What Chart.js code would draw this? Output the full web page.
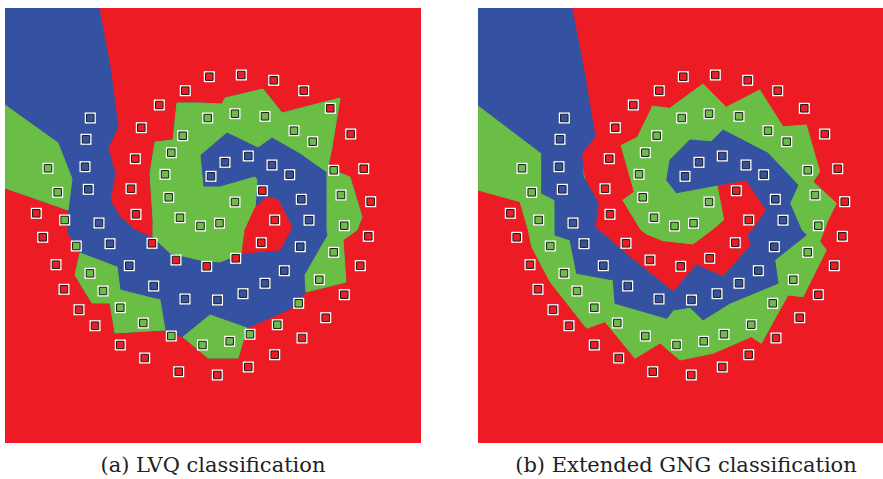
<!DOCTYPE html>
<html lang="en">
<head>
  <meta charset="UTF-8">
  <title>LVQ vs Extended GNG classification</title>
  <style>
    body {
      margin: 0;
      width: 883px;
      height: 479px;
      overflow: hidden;
      position: relative;
      background: #fff;
      font-family: "DejaVu Serif", serif;
    }
    .panel { position: absolute; top: 8px; height: 435px; }
    #leftPanel { left: 5px; width: 416px; }
    #rightPanel { left: 478px; width: 415px; }
    .caption {
      position: absolute;
      top: 455px;
      font-size: 21px;
      line-height: 21px;
      color: #222;
      white-space: nowrap;
      transform: translateX(-50%);
    }
  </style>
</head>
<body>
  <div class="panel" id="leftPanel"><canvas id="lvqChart" width="416" height="435"></canvas></div>
  <div class="panel" id="rightPanel"><canvas id="gngChart" width="415" height="435"></canvas></div>
  <div class="caption" style="left:213px">(a) LVQ classification</div>
  <div class="caption" style="left:686px">(b) Extended GNG classification</div>

  <script src="https://cdn.jsdelivr.net/npm/chart.js"></script>
  <script>
    const RED = '#ED1C24', BLUE = '#3552A2', GREEN = '#6ABD45';

    // three-class spiral data set (same points in both panels)
    const redPoints = [
      [209.3,76.7],[241.3,75],[273.7,80.3],[303.7,90.7],[330.3,108.3],[350.7,134],[363.7,168.7],
      [370.7,201.7],[368.3,236.3],[360.3,265.7],[344.3,294.7],[325.7,317.7],[302,338],[274.7,354.7],
      [248.3,367],[217.3,375],[178.7,371.7],[144.7,358],[120.3,345],[95,325.7],[79,309.7],[64,289.3],
      [56,264.7],[42.7,237.3],[36.3,213.3],[185.3,90.7],[159.3,105],[141.3,127.7],[135.3,158.7],
      [131,188.7],[136,214.3],[152,243.3],[176,260],[206.7,266.3],[235.7,258.3],[261.3,242.7],
      [274.7,220],[262.3,190.7]
    ];
    const bluePoints = [
      [90.3,118],[86,139.3],[85,166.7],[88.3,189.3],[99,223],[110,243.7],[129.3,265.7],[153.7,286],
      [185,299],[217.5,300],[243,293.7],[265,283.3],[284.3,270.7],[300.3,246.7],[309,220.2],
      [301.3,199.3],[289.7,174.7],[272,165],[248.3,156],[225,162.3],[211,176.3]
    ];
    const greenPoints = [
      [48,168.3],[57.7,192.3],[64.7,220],[76.3,246],[90,273.3],[103,291],[120.3,307.7],[143.3,323],
      [171.3,336],[202.5,345],[229.7,341.3],[250,334.3],[277.3,324.7],[298.7,303.3],[319.3,279.7],
      [333.7,252.3],[344.3,225.7],[341,195],[333.7,170.3],[312.7,141.7],[294,130.7],[265,116.3],
      [235,113.7],[207.7,118],[182.7,135.7],[171.3,152.7],[165,174.3],[168.7,197.3],[180,217.7],
      [200.5,226],[219.5,223.2],[235,202]
    ];

    // LVQ decision regions (background is red)
    const lvqBlue = [
      [5,8],[99,8],[110,67],[118,127],[108,148],[115,173],[110,200],[120,217],[135,230],[152,238],
      [153,237],[153,220],[150,173],[155,142],[173,140],[177,103],[200,103],[222,104],[225,98],
      [263,89],[282,113],[340,98],[332,147],[327,171],[340,173],[350,177],[362,217],[357,230],
      [343,240],[346,282],[306,292],[292,308],[247,328],[238,358],[208,358],[183,337],[165,330],
      [115,333],[110,303],[92,303],[75,275],[80,253],[68,233],[68,210],[5,188]
    ];
    const lvqGreenWedge = [[5,105],[58,143],[72,179],[68,210],[5,188]];
    const lvqGreenCentre = [
      [177,103],[200,103],[222,104],[225,98],[263,89],[282,113],[340,98],[332,147],[327,172],
      [300,153],[272,137],[258,147],[227,132],[200,155],[203,187],[220,187],[255,177],[257,180],
      [255,208],[245,230],[242,253],[220,262],[200,260],[170,253],[153,237],[153,220],[150,173],
      [155,142],[173,140]
    ];
    const lvqGreenRight = [
      [327,170],[340,173],[350,177],[362,217],[357,230],[343,240],[346,282],[306,292],[305,275],
      [328,235],[327,230]
    ];
    const lvqGreenBottom = [[183,337],[210,315],[247,328],[238,358],[208,358]];
    const lvqGreenLower = [
      [80,253],[117,267],[120,290],[160,300],[165,330],[115,333],[110,303],[92,303],[75,275]
    ];
    const lvqRedInner = [[255,208],[267,197],[278,200],[292,227],[280,250],[242,253],[245,230]];

    // Extended GNG decision regions
    const gngGreen = [
      [4,105],[177.7,106],[195.7,108.3],[229,84],[252.3,107.3],[285.7,90],[309,126.7],[332.3,125],
      [345.7,171.7],[339,181.7],[362.3,203.3],[354,220],[345.7,241.7],[352.3,250],[329,296.7],
      [314,295],[287.3,343.3],[277.3,336.7],[239,353.3],[206,360],[186,343],[161,358.3],
      [131,321.7],[112.7,328.3],[76,281.7],[57.7,246.7],[54.3,230],[46,201.7],[4,190]
    ];
    const gngRed = [
      [116,100],[177.7,106],[162.7,136.7],[146,145],[159.3,191.7],[147.7,200],[166,230],
      [172.7,235],[189,241.7],[219,245],[239,230],[250.7,220],[244,185],[272.3,180],[292.3,210],
      [279,230],[274,235],[277.3,245],[249,276.7],[222.3,265],[199.3,291.7],[159.3,260],
      [121,226.7],[106,150]
    ];
    const gngBlue = [
      [4,8],[97.7,8],[109.3,66.7],[121,136.7],[107.7,153.3],[109.3,176.7],[124.3,203.3],[121,226.7],
      [159.3,260],[199.3,291.7],[222.3,265],[249,276.7],[277.3,245],[274,235],[279,230],[292.3,210],
      [272.3,180],[244,185],[202.3,192.7],[192.7,180],[196,160],[215.7,140],[237.3,141.7],[249,130],
      [294,153.3],[324,185],[315.7,203.3],[327.3,230],[332.3,235],[300.7,260],[304,283.3],
      [255.7,303.3],[229,320],[216,307.3],[199.3,310],[192.7,318.3],[141,303.3],[139.3,280],
      [102.7,273.3],[96,240],[81,235],[81,200],[67.7,193.3],[67.7,153.3],[4,105]
    ];

    function toXY(list) {
      return list.map(p => ({ x: p[0], y: p[1] }));
    }

    function region(pts, color, order) {
      const data = toXY(pts);
      data.push(data[0]);
      return {
        type: 'line', data: data, order: order,
        backgroundColor: color, borderColor: color, borderWidth: 1,
        fill: 'shape', tension: 0, pointRadius: 0
      };
    }

    function markers() {
      const all = redPoints.concat(bluePoints, greenPoints);
      const sets = [{
        data: toXY(all), order: 1, pointStyle: 'rect', pointRadius: 7.8,
        backgroundColor: '#fff', borderWidth: 0
      }];
      [[redPoints, RED], [bluePoints, BLUE], [greenPoints, GREEN]].forEach(([pts, c]) => {
        sets.push({
          data: toXY(pts), order: 0, pointStyle: 'rect', pointRadius: 5.3,
          backgroundColor: c, borderColor: '#1a1a1a', borderWidth: 1
        });
      });
      return sets;
    }

    const redBackground = {
      id: 'redBackground',
      beforeDatasetsDraw(chart) {
        const a = chart.chartArea;
        chart.ctx.save();
        chart.ctx.fillStyle = RED;
        chart.ctx.fillRect(a.left, a.top, a.right - a.left, a.bottom - a.top);
        chart.ctx.restore();
      }
    };

    function makeChart(id, xMin, xMax, regions) {
      return new Chart(document.getElementById(id), {
        type: 'scatter',
        data: { datasets: regions.concat(markers()) },
        options: {
          responsive: false,
          animation: false,
          devicePixelRatio: 1,
          layout: { padding: 0, autoPadding: false },
          plugins: { legend: { display: false }, tooltip: { enabled: false } },
          scales: {
            x: { type: 'linear', min: xMin, max: xMax, display: false },
            y: { type: 'linear', min: 8, max: 443, reverse: true, display: false }
          }
        },
        plugins: [redBackground]
      });
    }

    makeChart('lvqChart', 5, 421, [
      region(lvqBlue, BLUE, 10),
      region(lvqGreenWedge, GREEN, 9),
      region(lvqGreenCentre, GREEN, 9),
      region(lvqGreenRight, GREEN, 9),
      region(lvqGreenBottom, GREEN, 9),
      region(lvqGreenLower, GREEN, 9),
      region(lvqRedInner, RED, 8)
    ]);

    makeChart('gngChart', 4, 419, [
      region(gngGreen, GREEN, 10),
      region(gngRed, RED, 9),
      region(gngBlue, BLUE, 8)
    ]);
  </script>
</body>
</html>
